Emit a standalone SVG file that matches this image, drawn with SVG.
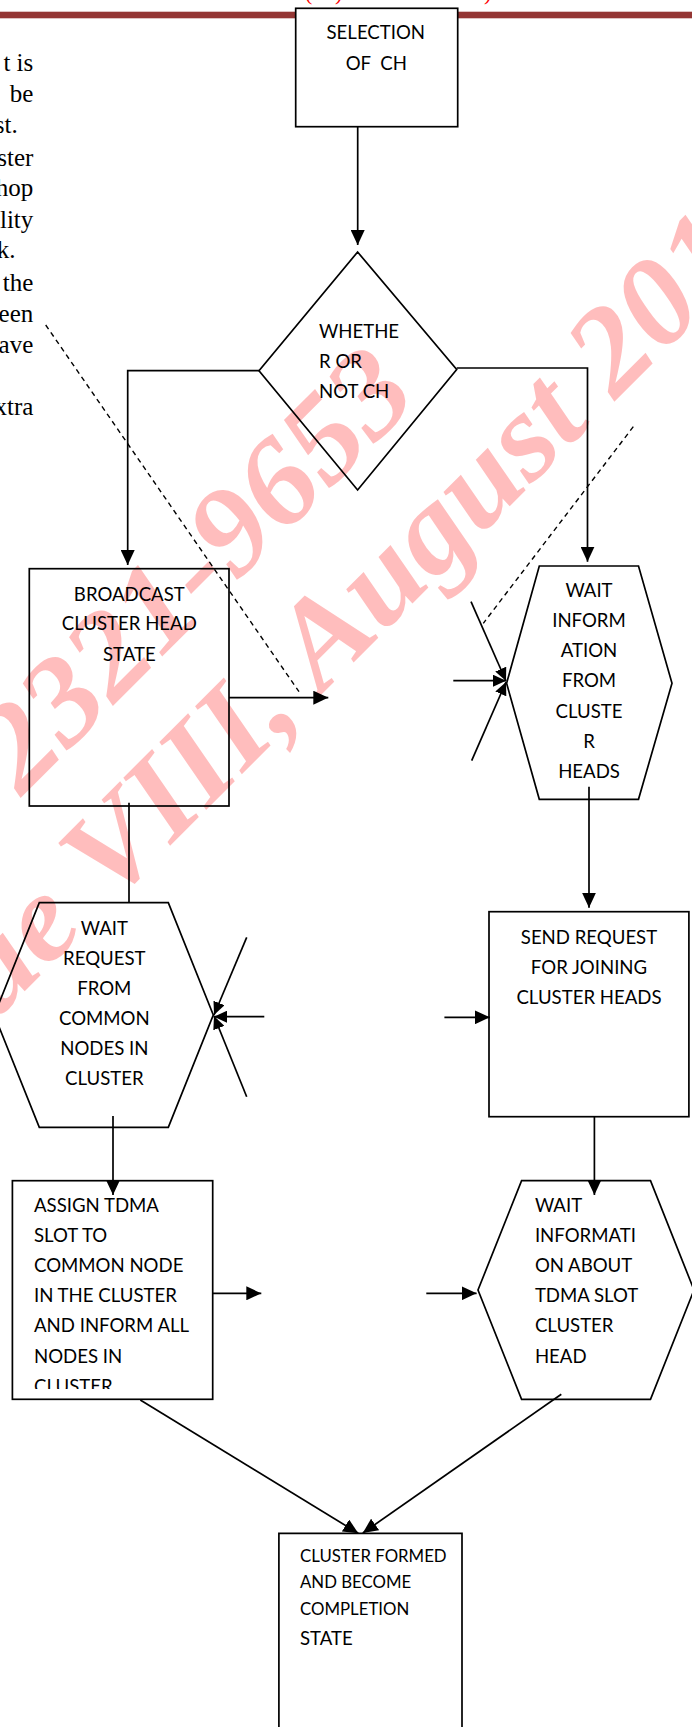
<svg xmlns="http://www.w3.org/2000/svg" width="692" height="1727" viewBox="0 0 692 1727">
  <style>
    .lbl { font-family: Lato, 'Liberation Sans', sans-serif; font-size: 18.6px; fill: #000; }
    .c { text-anchor: middle; }
    .sm { font-size: 16.8px; }
    .body { font-family: 'Liberation Serif', 'Times New Roman', serif; font-size: 25px; fill: #000; text-anchor: end; }
    .shape { fill: none; stroke: #000; stroke-width: 1.7; }
    .conn { fill: none; stroke: #000; stroke-width: 1.7; }
    .dash { fill: none; stroke: #000; stroke-width: 1.4; stroke-dasharray: 5 4; }
    .wm { font-family: 'Liberation Serif', 'Times New Roman', serif; font-weight: bold; font-style: italic; font-size: 124px; fill: #FF0000; fill-opacity: 0.26; }
    .hdr { font-family: 'Liberation Serif', 'Times New Roman', serif; font-size: 22px; fill: #FF0000; }
  </style>
  <defs>
    <marker id="arr" viewBox="0 0 15 14" refX="15" refY="7" markerWidth="15" markerHeight="14" markerUnits="userSpaceOnUse" orient="auto">
      <path d="M0,0 L15,7 L0,14 z" fill="#000"/>
    </marker>
    <marker id="arrS" viewBox="0 0 13 12" refX="13" refY="6" markerWidth="13" markerHeight="12" markerUnits="userSpaceOnUse" orient="auto">
      <path d="M0,0 L13,6 L0,12 z" fill="#000"/>
    </marker>
    <clipPath id="assignClip">
      <rect x="12" y="1180" width="201" height="209"/>
    </clipPath>
  </defs>

  <rect x="0" y="0" width="692" height="1727" fill="#FFFFFF"/>

  <!-- page header fragments -->
  <g id="page-header">
    <rect x="0" y="11.7" width="692" height="6.6" fill="#943634"/>
    <text class="hdr" x="305" y="0.3">(</text>
    <text class="hdr" x="335" y="0.3">)</text>
    <text class="hdr" x="484" y="0.3">)</text>
  </g>

  <!-- body text fragments at left margin -->
  <g id="body-text">
    <text class="body" x="33.3" y="70.5">t is</text>
    <text class="body" x="33.3" y="101.5">be</text>
    <text class="body" x="17.7" y="133.3">st.</text>
    <text class="body" x="33.3" y="165.7">ster</text>
    <text class="body" x="33.3" y="196">hop</text>
    <text class="body" x="33.3" y="227.7">lity</text>
    <text class="body" x="15.4" y="258.3">k.</text>
    <text class="body" x="33.3" y="291">the</text>
    <text class="body" x="33.3" y="322">een</text>
    <text class="body" x="33.3" y="353.3">ave</text>
    <text class="body" x="33.3" y="415">xtra</text>
  </g>

  <!-- watermark -->
  <g id="watermark">
    <text class="wm" transform="rotate(-45) translate(-548,578.9) scale(1.05,1)">2321-9653</text>
    <text class="wm" transform="rotate(-45) translate(-726,718.4) scale(1.05,1)">ue VIII, August 201</text>
  </g>

  <!-- nodes -->
  <g id="n-selection">
    <rect class="shape" x="295.7" y="8.3" width="162" height="118.4" style="fill:#FFFFFF"/>
    <text class="lbl c" x="375.8" y="39.3">SELECTION</text>
    <text class="lbl c" x="376.3" y="70">OF&#160;&#160;CH</text>
  </g>

  <g id="n-decision">
    <polygon class="shape" points="357.6,252 456.7,369.5 357.6,490 259,370.7"/>
    <text class="lbl" x="319" y="338.3">WHETHE</text>
    <text class="lbl" x="319" y="368.3">R OR</text>
    <text class="lbl" x="319" y="398.3">NOT CH</text>
  </g>

  <g id="n-broadcast">
    <rect class="shape" x="29.3" y="568.7" width="199.7" height="237.3"/>
    <text class="lbl c" x="129.3" y="601">BROADCAST</text>
    <text class="lbl c" x="129.3" y="630.3">CLUSTER HEAD</text>
    <text class="lbl c" x="129.3" y="660.7">STATE</text>
  </g>

  <g id="n-wait-info">
    <polygon class="shape" points="539.3,566 638.5,566 672,683.3 638.5,799.3 539.3,799.3 506.6,683.3"/>
    <text class="lbl c" x="589" y="596.7">WAIT</text>
    <text class="lbl c" x="589" y="626.9">INFORM</text>
    <text class="lbl c" x="589" y="657.1">ATION</text>
    <text class="lbl c" x="589" y="687.3">FROM</text>
    <text class="lbl c" x="589" y="717.5">CLUSTE</text>
    <text class="lbl c" x="589" y="747.7">R</text>
    <text class="lbl c" x="589" y="777.9">HEADS</text>
  </g>

  <g id="n-wait-request">
    <polygon class="shape" points="39.3,902.7 168.3,902.7 213.3,1015 168.3,1127.3 39.3,1127.3 -5.7,1015"/>
    <text class="lbl c" x="104.3" y="935">WAIT</text>
    <text class="lbl c" x="104.3" y="965">REQUEST</text>
    <text class="lbl c" x="104.3" y="995">FROM</text>
    <text class="lbl c" x="104.3" y="1025">COMMON</text>
    <text class="lbl c" x="104.3" y="1055">NODES IN</text>
    <text class="lbl c" x="104.3" y="1085">CLUSTER</text>
  </g>

  <g id="n-send-request">
    <rect class="shape" x="489" y="911.7" width="199.9" height="205"/>
    <text class="lbl c" x="589" y="944.3">SEND REQUEST</text>
    <text class="lbl c" x="589" y="974">FOR JOINING</text>
    <text class="lbl c" x="589" y="1004">CLUSTER HEADS</text>
  </g>

  <g id="n-assign">
    <rect class="shape" x="12.4" y="1180.7" width="200.3" height="218.6"/>
    <g clip-path="url(#assignClip)">
      <text class="lbl" x="34" y="1211.7">ASSIGN TDMA</text>
      <text class="lbl" x="34" y="1241.7">SLOT TO</text>
      <text class="lbl" x="34" y="1271.7">COMMON NODE</text>
      <text class="lbl" x="34" y="1301.7">IN THE CLUSTER</text>
      <text class="lbl" x="34" y="1332.3">AND INFORM ALL</text>
      <text class="lbl" x="34" y="1362.7">NODES IN</text>
      <text class="lbl" x="34" y="1393">CLUSTER</text>
    </g>
  </g>

  <g id="n-wait-tdma">
    <polygon class="shape" points="521.6,1180.7 650.5,1180.7 694,1290 650.5,1399.3 521.6,1399.3 478,1290"/>
    <text class="lbl" x="534.9" y="1211.7">WAIT</text>
    <text class="lbl" x="534.9" y="1241.7">INFORMATI</text>
    <text class="lbl" x="534.9" y="1271.7">ON ABOUT</text>
    <text class="lbl" x="534.9" y="1301.7">TDMA SLOT</text>
    <text class="lbl" x="534.9" y="1332.3">CLUSTER</text>
    <text class="lbl" x="534.9" y="1362.7">HEAD</text>
  </g>

  <g id="n-cluster-formed">
    <path class="shape" d="M278.9,1740 V1533.3 H462 V1740"/>
    <text class="lbl sm" x="300" y="1561.7">CLUSTER FORMED</text>
    <text class="lbl sm" x="300" y="1588.3">AND BECOME</text>
    <text class="lbl sm" x="300" y="1615">COMPLETION</text>
    <text class="lbl" x="300" y="1645">STATE</text>
  </g>

  <!-- connectors -->
  <g id="connectors">
    <line class="conn" x1="357.7" y1="126.7" x2="357.7" y2="245" marker-end="url(#arr)"/>
    <polyline class="conn" points="259,370.7 127.7,370.7 127.7,565" marker-end="url(#arr)"/>
    <polyline class="conn" points="456.7,368 587.5,368 587.5,561.7" marker-end="url(#arr)"/>
    <line class="conn" x1="229" y1="697.7" x2="328.3" y2="697.7" marker-end="url(#arr)"/>
    <line class="conn" x1="453.3" y1="680.7" x2="506" y2="680.7" marker-end="url(#arrS)"/>
    <line class="conn" x1="471" y1="601.7" x2="506" y2="681" marker-end="url(#arrS)"/>
    <line class="conn" x1="471.7" y1="760.7" x2="506" y2="682" marker-end="url(#arrS)"/>
    <line class="conn" x1="129" y1="802.7" x2="129" y2="902.7"/>
    <line class="conn" x1="589" y1="786.7" x2="589" y2="907.7" marker-end="url(#arr)"/>
    <line class="conn" x1="264.3" y1="1016.7" x2="214" y2="1016.7" marker-end="url(#arrS)"/>
    <line class="conn" x1="246.7" y1="937.3" x2="214" y2="1015" marker-end="url(#arrS)"/>
    <line class="conn" x1="246.7" y1="1096.7" x2="214" y2="1016" marker-end="url(#arrS)"/>
    <line class="conn" x1="444.4" y1="1017.3" x2="489.8" y2="1017.3" marker-end="url(#arr)"/>
    <line class="conn" x1="113" y1="1116" x2="113" y2="1195" marker-end="url(#arr)"/>
    <line class="conn" x1="594.4" y1="1116.7" x2="594.4" y2="1195" marker-end="url(#arr)"/>
    <line class="conn" x1="212.7" y1="1293.3" x2="261.3" y2="1293.3" marker-end="url(#arr)"/>
    <line class="conn" x1="426.3" y1="1293.3" x2="476.6" y2="1293.3" marker-end="url(#arr)"/>
    <line class="conn" x1="140.3" y1="1400" x2="358.3" y2="1533.3" marker-end="url(#arr)"/>
    <line class="conn" x1="561.3" y1="1394.3" x2="362.8" y2="1533" marker-end="url(#arr)"/>
    <line class="dash" x1="45.7" y1="325" x2="299" y2="691.7"/>
    <line class="dash" x1="633.3" y1="426.7" x2="483.3" y2="623.3"/>
  </g>
</svg>
